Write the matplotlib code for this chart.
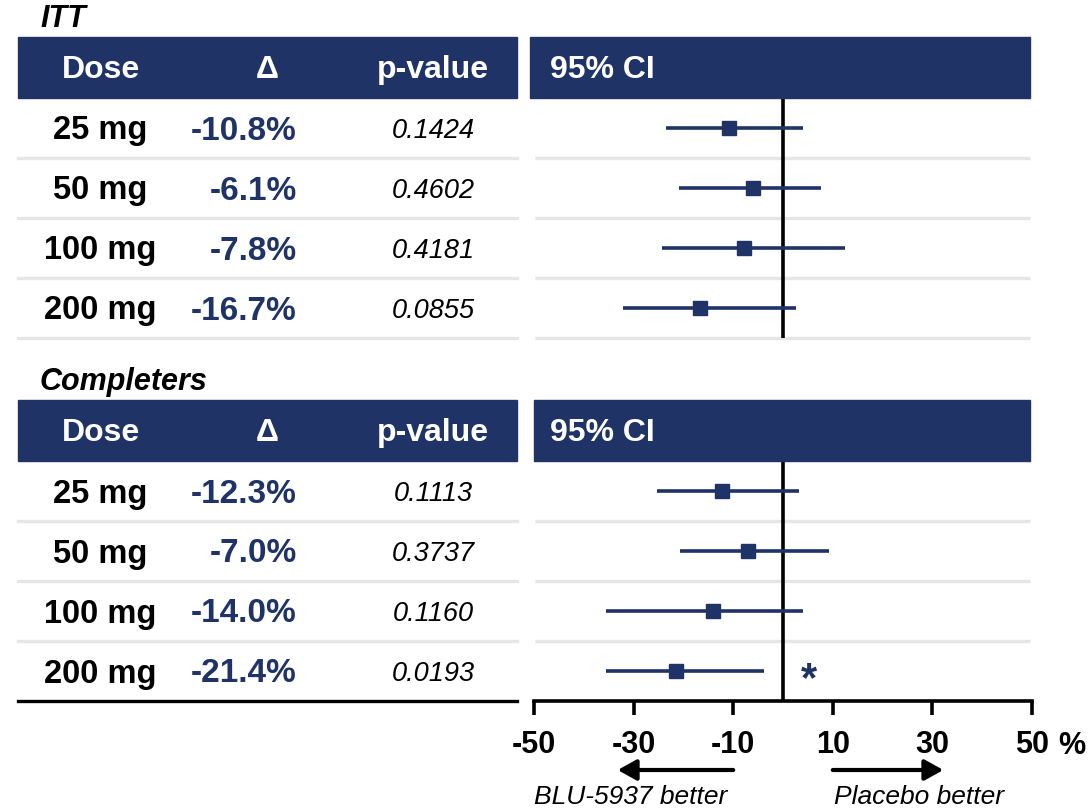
import matplotlib
matplotlib.use('Agg')
import matplotlib.pyplot as plt
from matplotlib.patches import Rectangle

plt.rcParams['font.family'] = ['Liberation Sans', 'DejaVu Sans']

NAVY = '#1f3366'
SEP = '#e6e6e6'

# data
doses = ['25 mg', '50 mg', '100 mg', '200 mg']

itt_delta = [-10.8, -6.1, -7.8, -16.7]
itt_pval = ['0.1424', '0.4602', '0.4181', '0.0855']
itt_lo = [-23.5, -20.8, -24.3, -32.2]
itt_hi = [4.0, 7.6, 12.4, 2.6]

comp_delta = [-12.3, -7.0, -14.0, -21.4]
comp_pval = ['0.1113', '0.3737', '0.1160', '0.0193']
comp_lo = [-25.3, -20.7, -35.6, -35.5]
comp_hi = [3.2, 9.3, 4.0, -3.9]

xticks = [-50, -30, -10, 10, 30, 50]

W, H = 1091, 810
fig = plt.figure(figsize=(W / 100, H / 100), dpi=100)
fig.patch.set_facecolor('white')


def px_axes(x0, y0, x1, y1):
    return fig.add_axes([x0 / W, 1 - y1 / H, (x1 - x0) / W, (y1 - y0) / H])


def fx(x):
    return x / W


def fy(y):
    return 1 - y / H


def header(x0, y0, x1, y1):
    fig.patches.append(Rectangle((fx(x0), fy(y1)), (x1 - x0) / W, (y1 - y0) / H,
                                 transform=fig.transFigure, color=NAVY, zorder=0))


def draw_section(top, title, delta, pval, lo, hi, ci_x0, last=False):
    # title + header boxes
    fig.text(fx(40), fy(top - 18), title, fontsize=22, fontweight='bold',
             style='italic', va='center', ha='left')
    header(18, top, 517, top + 61)
    header(ci_x0, top, 1030, top + 61)
    hy = fy(top + 33)
    hkw = dict(color='white', fontsize=23, fontweight='bold', va='center')
    fig.text(fx(101), hy, 'Dose', ha='center', **hkw)
    fig.text(fx(267), hy, 'Δ', ha='center', **hkw)
    fig.text(fx(433), hy, 'p-value', ha='center', **hkw)
    fig.text(fx(550), hy, '95% CI', ha='left', **hkw)

    # table part
    tab = px_axes(18, top + 61, 517, top + 301)
    tab.set_xlim(18, 517)
    tab.set_ylim(4, 0)
    tab.axis('off')
    for i in range(4):
        yc = i + 0.55
        tab.text(100.5, yc, doses[i], ha='center', va='center', fontsize=23.5,
                 fontweight='bold', color='black')
        tab.text(297, yc, f'{delta[i]:.1f}%', ha='right', va='center',
                 fontsize=24, fontweight='bold', color=NAVY)
        tab.text(433, yc, pval[i], ha='center', va='center', fontsize=19.5,
                 style='italic', color='black')
        if last and i == 3:
            tab.axhline(4, color='black', lw=2.4, clip_on=False)
        else:
            tab.axhline(i + 1, color=SEP, lw=2.4, clip_on=False)

    # forest part
    ax = px_axes(534, top + 61, 1032, top + 301)
    ax.set_xlim(-50, 50)
    ax.set_ylim(4, 0)
    ax.set_yticks([])
    for sp in ['top', 'right', 'left']:
        ax.spines[sp].set_visible(False)
    ys = [i + 0.5 for i in range(4)]
    n_sep = 3 if last else 4
    ax.hlines([i + 1 for i in range(n_sep)], 0.2 - 50, 49.6, color=SEP, lw=2.4,
              clip_on=False, zorder=1)
    ax.axvline(0, color='black', lw=2.6, zorder=2)
    ax.hlines(ys, lo, hi, color=NAVY, lw=2.6, zorder=3)
    ax.plot(delta, ys, 's', color=NAVY, ms=10, zorder=4)

    if last:
        ax.spines['bottom'].set_linewidth(2.6)
        ax.set_xticks(xticks)
        ax.set_xticklabels([str(t) for t in xticks], fontweight='bold')
        ax.tick_params(axis='x', direction='out', length=10, width=2.6,
                       pad=11, labelsize=22)
    else:
        ax.spines['bottom'].set_visible(False)
        ax.set_xticks([])
    return ax


draw_section(37, 'ITT', itt_delta, itt_pval, itt_lo, itt_hi, 530)
ax = draw_section(400, 'Completers', comp_delta, comp_pval, comp_lo, comp_hi, 534,
                  last=True)

# significance marker on the 200 mg completers row
ax.text(5.3, 3.65, '*', color=NAVY, fontsize=30, fontweight='bold',
        ha='center', va='center')

# unit sign next to the last tick label
ax.annotate('%', xy=(58, H - 731), xycoords=('data', 'figure pixels'),
            ha='center', va='top', fontsize=22, fontweight='bold',
            annotation_clip=False)

# direction arrows
akw = dict(arrowstyle='-|>,head_length=0.45,head_width=0.25', lw=3,
           color='black', mutation_scale=25, shrinkA=0, shrinkB=0)
ax.annotate('', xy=(-33.2, H - 770), xytext=(-10, H - 770),
            xycoords=('data', 'figure pixels'), arrowprops=akw,
            annotation_clip=False)
ax.annotate('', xy=(32.2, H - 770), xytext=(10, H - 770),
            xycoords=('data', 'figure pixels'), arrowprops=akw,
            annotation_clip=False)
ax.annotate('BLU-5937 better', xy=(-50, H - 797), xycoords=('data', 'figure pixels'),
            ha='left', va='center', fontsize=19, style='italic',
            annotation_clip=False)
ax.annotate('Placebo better', xy=(10.2, H - 797), xycoords=('data', 'figure pixels'),
            ha='left', va='center', fontsize=19, style='italic',
            annotation_clip=False)

fig.savefig('out.png', dpi=100, facecolor='white')
